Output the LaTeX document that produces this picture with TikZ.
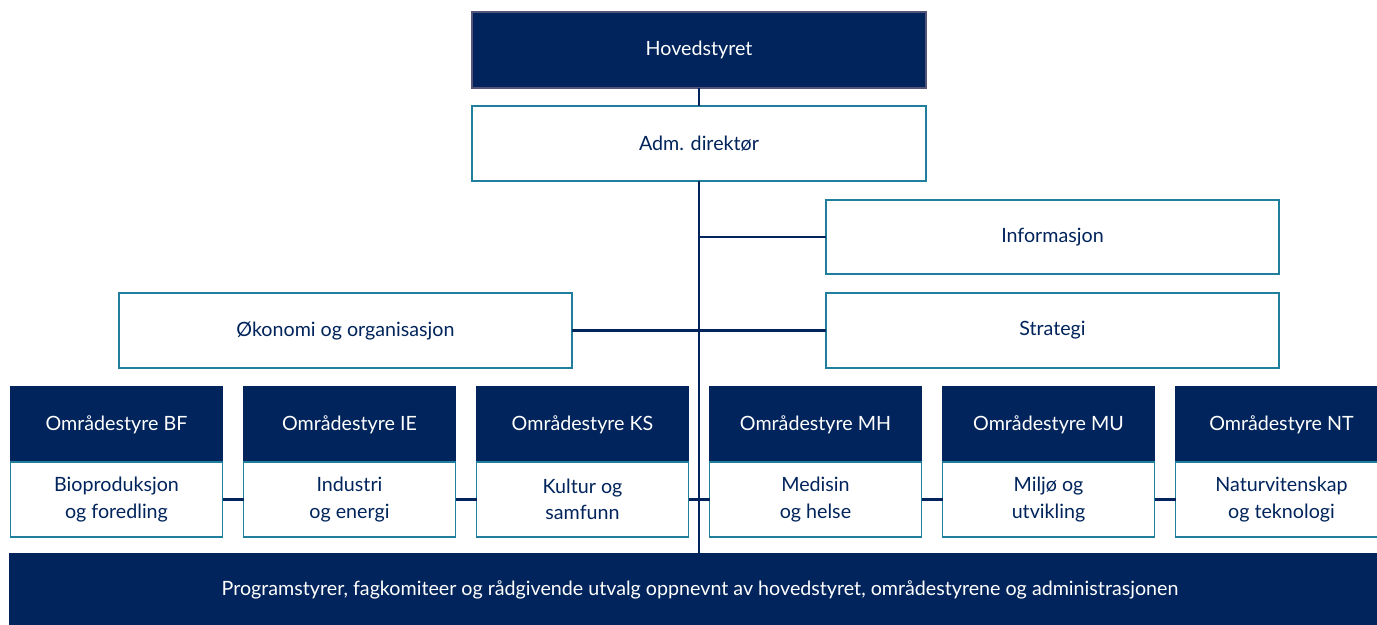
\documentclass[tikz,border=0pt]{standalone}
\usepackage{fontspec}
\setmainfont{Lato}
\definecolor{navy}{HTML}{00245B}
\definecolor{tealedge}{HTML}{1F7F9D}
\definecolor{greyedge}{HTML}{55557A}
\tikzset{
    darkbox/.style={rectangle, fill=navy, draw=navy, line width=1pt, text=white,
        font=\fontsize{11.2}{14}\selectfont, align=center, inner sep=0pt, outer sep=0pt},
    lightbox/.style={rectangle, fill=white, draw=tealedge, line width=1.1pt, text=navy,
        font=\fontsize{11.2}{15}\selectfont, align=center, inner sep=0pt, outer sep=0pt},
    link/.style={draw=navy, line width=1.3pt}
}
\begin{document}
\begin{tikzpicture}[x=0.02cm, y=-0.02cm]
\clip (0,0) rectangle (1377,625);
\fill[white] (0,0) rectangle (1377,625);

% Top of the chart
\node[darkbox, draw=greyedge, minimum width=454*0.02cm, minimum height=76*0.02cm] (hoved) at (699,50) {Hovedstyret};
\node[lightbox, minimum width=454*0.02cm, minimum height=75*0.02cm] (adm) at (699,143.5) {Adm. direktør};

% Staff units
\node[lightbox, minimum width=453*0.02cm, minimum height=74*0.02cm] (info) at (1052.5,237) {Informasjon};
\node[lightbox, minimum width=453*0.02cm, minimum height=75*0.02cm] (strat) at (1052.5,330.5) {Strategi};
\node[lightbox, minimum width=453*0.02cm, minimum height=75*0.02cm] (oko) at (345.5,330.5) {Økonomi og organisasjon};

% Bottom bar
\node[darkbox, minimum width=1380*0.02cm, minimum height=71*0.02cm] (prog) at (700,589.5)
    {Programstyrer, fagkomiteer og rådgivende utvalg oppnevnt av hovedstyret, områdestyrene og administrasjonen};

% Connectors
\draw[link] (hoved) -- (adm);
\draw[link] (adm.south) -- (adm.south |- prog.north);
\draw[link] (adm.south |- info.west) -- (info.west);
\draw[link] (oko.east) -- (strat.west);

% Area boards
\foreach \i/\tag/\body in {0/BF/{Bioproduksjon\\og foredling}, 1/IE/{Industri\\og energi},
    2/KS/{Kultur og\\samfunn}, 3/MH/{Medisin\\og helse}, 4/MU/{Miljø og\\utvikling},
    5/NT/{Naturvitenskap\\og teknologi}} {
    \node[darkbox, minimum width=212*0.02cm, minimum height=76*0.02cm] (\tag-head) at (116.5+233*\i,424.5) {Områdestyre \tag};
    \node[lightbox, minimum width=212*0.02cm, minimum height=75*0.02cm] (\tag-body) at (116.5+233*\i,499.5) {\body};
}
\foreach \a/\b in {BF/IE, IE/KS, KS/MH, MH/MU, MU/NT}
    \draw[link] (\a-body) -- (\b-body);

\end{tikzpicture}
\end{document}
